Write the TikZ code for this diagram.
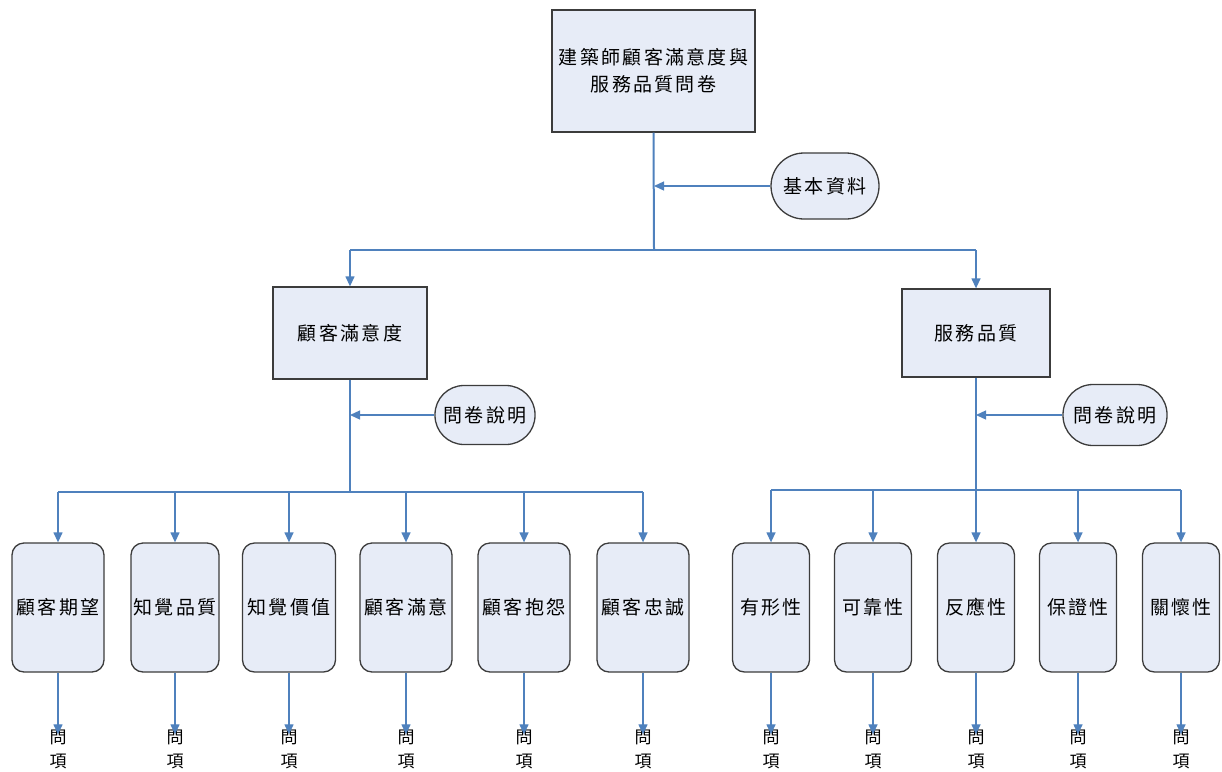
\documentclass[tikz,border=0pt]{standalone}
\usepackage{fontspec}
\newfontfamily\cjk[LetterSpace=12]{Noto Sans CJK TC}
\newfontfamily\cjkplain{Noto Sans CJK TC}
\usetikzlibrary{arrows.meta}
\definecolor{boxfill}{RGB}{231,236,247}
\definecolor{linkblue}{RGB}{79,129,189}
\definecolor{boxedge}{RGB}{60,60,60}

\begin{document}
\begin{tikzpicture}[x=1pt,y=-1pt,
  base/.style={draw=boxedge,line width=1.3pt,fill=boxfill,inner sep=0pt,align=center,
    font=\fontsize{19}{27}\selectfont\cjk},
  mainbox/.style={base},
  pill/.style={base,minimum height=60pt},
  child/.style={base,rounded corners=12pt,minimum height=129pt},
  qlabel/.style={inner sep=0pt,align=center,font=\fontsize{17}{24}\selectfont\cjkplain},
  link/.style={draw=linkblue,line width=1.3pt},
  trunk/.style={draw=linkblue,line width=2pt},
  arr/.style={link,-{Triangle[length=10pt,width=9pt]}}
]
\useasboundingbox (0,0) rectangle (1222,771);

% top level
\node[mainbox,minimum width=203pt,minimum height=122pt] (top) at (653.5,71) {建築師顧客滿意度與\\服務品質問卷};
\node[pill,minimum width=108pt,minimum height=66pt,rounded corners=33pt] (basic) at (825,186) {基本資料};
\coordinate (split) at (654,250);

% second level
\node[mainbox,minimum width=154pt,minimum height=92pt] (sat) at (350,333) {顧客滿意度};
\node[mainbox,minimum width=148pt,minimum height=88pt] (svc) at (976,333) {服務品質};
\node[pill,minimum width=100pt,minimum height=59pt,rounded corners=29pt] (noteL) at (485,415) {問卷說明};
\node[pill,minimum width=104pt,minimum height=61pt,rounded corners=30pt] (noteR) at (1115,415) {問卷說明};
\coordinate (barL) at (350,492);
\coordinate (barR) at (976,490);

% top connectors
\draw[trunk] (top.south) -- (split);
\draw[arr] (basic.west) -- (basic.west -| split);
\draw[link] (sat.north |- split) -- (svc.north |- split);
\draw[arr] (sat.north |- split) -- (sat.north);
\draw[arr] (svc.north |- split) -- (svc.north);

% customer satisfaction branch
\draw[trunk] (sat.south) -- (barL);
\draw[arr] (noteL.west) -- (noteL.west -| sat.south);
\draw[link] (58,492) -- (643,492);
\foreach \n/\x/\w/\t in {a1/58/92/顧客期望, a2/175/88/知覺品質, a3/289/93/知覺價值,
                         a4/406/92/顧客滿意, a5/524/92/顧客抱怨, a6/643/92/顧客忠誠}{
  \node[child,minimum width=\w pt] (\n) at (\x,607.5) {\t};
  \node[qlabel] (q\n) at (\x,749) {問\\項};
  \draw[arr] (\n.north |- barL) -- (\n.north);
  \draw[arr] (\n.south) -- ([yshift=-5pt]q\n.north);
}

% service quality branch
\draw[trunk] (svc.south) -- (barR);
\draw[arr] (noteR.west) -- (noteR.west -| svc.south);
\draw[link] (771,490) -- (1181,490);
\foreach \n/\x/\t in {b1/771/有形性, b2/873/可靠性, b3/976/反應性,
                      b4/1078/保證性, b5/1181/關懷性}{
  \node[child,minimum width=77pt] (\n) at (\x,607.5) {\t};
  \node[qlabel] (q\n) at (\x,749) {問\\項};
  \draw[arr] (\n.north |- barR) -- (\n.north);
  \draw[arr] (\n.south) -- ([yshift=-5pt]q\n.north);
}
\end{tikzpicture}
\end{document}
